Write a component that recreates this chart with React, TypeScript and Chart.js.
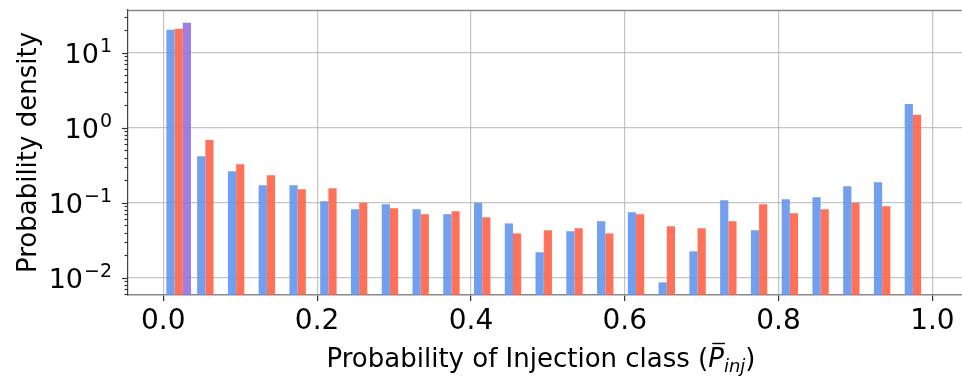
import React, { useEffect, useRef } from 'react';
import { Chart, registerables } from 'chart.js';

Chart.register(...registerables);

// Histogram bins: 25 bins of width 0.04 on [0, 1], plotted at their centres
const binCenters = [
  0.02, 0.06, 0.10, 0.14, 0.18, 0.22, 0.26, 0.30, 0.34, 0.38,
  0.42, 0.46, 0.50, 0.54, 0.58, 0.62, 0.66, 0.70, 0.74, 0.78,
  0.82, 0.86, 0.90, 0.94, 0.98,
];

const blueDensity = [
  20.1, 0.417, 0.263, 0.171, 0.171, 0.105, 0.082, 0.0955, 0.082, 0.0703,
  0.1, 0.053, 0.0219, 0.0417, 0.0567, 0.0747, 0.0087, 0.0225, 0.108, 0.043,
  0.111, 0.118, 0.166, 0.188, 2.07,
];

const redDensity = [
  20.7, 0.686, 0.326, 0.233, 0.151, 0.156, 0.1, 0.0845, 0.0703, 0.077,
  0.064, 0.039, 0.043, 0.0457, 0.039, 0.0703, 0.0486, 0.0457, 0.0567, 0.0955,
  0.0724, 0.082, 0.1, 0.09, 1.48,
];

const purpleDensity: (number | null)[] = [
  24.9, null, null, null, null, null, null, null, null, null,
  null, null, null, null, null, null, null, null, null, null,
  null, null, null, null, null,
];

const xTickValues = [0, 0.2, 0.4, 0.6, 0.8, 1.0];
const xTickLabels = ['0.0', '0.2', '0.4', '0.6', '0.8', '1.0'];

const yMajorTicks = [0.01, 0.1, 1, 10];
const yMajorExponents = ['\u22122', '\u22121', '0', '1'];

const X_MIN = -0.0459;
const X_MAX = 1.0385;
const Y_MIN = 0.0059;
const Y_MAX = 36.9;

const FONT = '"DejaVu Sans", sans-serif';
const GRID = 'rgba(176,176,176,0.75)';

function minorLogTicks(min: number, max: number): number[] {
  const out: number[] = [];
  for (let e = Math.floor(Math.log10(min)); e <= Math.ceil(Math.log10(max)); e++) {
    for (let k = 1; k <= 9; k++) {
      const v = Number((k * Math.pow(10, e)).toPrecision(3));
      if (v >= min && v <= max) out.push(v);
    }
  }
  return out;
}

function isMajor(v: number): boolean {
  return yMajorTicks.some((m) => Math.abs(v - m) / m < 1e-6);
}

const toPoints = (vals: (number | null)[]) => vals.map((y, i) => ({ x: binCenters[i], y }));

// Left-axis tick marks and power-of-ten labels, plus the top spine and x title
const axisDecor = {
  id: 'axisDecor',
  afterDraw(chart: any) {
    const { ctx, chartArea } = chart;
    const y = chart.scales.y;
    ctx.save();
    ctx.strokeStyle = '#333';
    ctx.lineWidth = 1.2;
    y.ticks.forEach((t: any) => {
      const py = Math.round(y.getPixelForValue(t.value)) + 0.5;
      const len = isMajor(t.value) ? 6 : 3.5;
      ctx.beginPath();
      ctx.moveTo(chartArea.left - len, py);
      ctx.lineTo(chartArea.left, py);
      ctx.stroke();
    });

    ctx.fillStyle = '#000';
    ctx.textBaseline = 'alphabetic';
    yMajorTicks.forEach((v, i) => {
      const py = y.getPixelForValue(v);
      const right = chartArea.left - 16;
      ctx.font = `19px ${FONT}`;
      const expW = ctx.measureText(yMajorExponents[i]).width;
      ctx.textAlign = 'right';
      ctx.fillText(yMajorExponents[i], right, py - 1);
      ctx.font = `27px ${FONT}`;
      ctx.fillText('10', right - expW - 1, py + 10);
    });

    // top spine
    ctx.strokeStyle = '#888';
    ctx.lineWidth = 1.5;
    ctx.beginPath();
    ctx.moveTo(chartArea.left, chartArea.top + 0.5);
    ctx.lineTo(chartArea.right, chartArea.top + 0.5);
    ctx.stroke();

    // x-axis title with mathematical subscript
    const cx = 541;
    const base = 367;
    const parts = [
      { t: 'Probability of Injection class (', f: `26px ${FONT}`, dy: 0 },
      { t: 'P', f: `italic 26px ${FONT}`, dy: 0, bar: true },
      { t: 'inj', f: `italic 18px ${FONT}`, dy: 5 },
      { t: ')', f: `26px ${FONT}`, dy: 0 },
    ];
    let total = 0;
    const widths = parts.map((p) => {
      ctx.font = p.f;
      const w = ctx.measureText(p.t).width;
      total += w;
      return w;
    });
    let px = cx - total / 2;
    ctx.textAlign = 'left';
    parts.forEach((p, i) => {
      ctx.font = p.f;
      ctx.fillText(p.t, px, base + p.dy);
      if ((p as any).bar) {
        ctx.strokeStyle = '#000';
        ctx.lineWidth = 1.4;
        ctx.beginPath();
        ctx.moveTo(px + 4, base - 23.5);
        ctx.lineTo(px + widths[i] + 1, base - 23.5);
        ctx.stroke();
      }
      px += widths[i];
    });
    ctx.restore();
  },
};

export default function App() {
  const canvasRef = useRef<HTMLCanvasElement | null>(null);

  useEffect(() => {
    document.body.style.margin = '0';
    const canvas = canvasRef.current;
    if (!canvas) return;
    const chart = new Chart(canvas, {
      type: 'bar',
      data: {
        datasets: [
          { data: toPoints(blueDensity), backgroundColor: 'rgba(100,149,237,0.9)' },
          { data: toPoints(redDensity), backgroundColor: 'rgba(255,99,71,0.9)' },
          { data: toPoints(purpleDensity), backgroundColor: 'rgba(147,112,219,0.9)' },
        ] as any,
      },
      options: {
        animation: false,
        responsive: false,
        devicePixelRatio: 1,
        layout: { padding: { top: 10, right: 0, left: 0, bottom: 0 } },
        plugins: { legend: { display: false }, tooltip: { enabled: false } },
        datasets: { bar: { categoryPercentage: 0.8, barPercentage: 1.0 } },
        scales: {
          x: {
            type: 'linear',
            min: X_MIN,
            max: X_MAX,
            offset: false,
            z: 1,
            afterBuildTicks: (scale: any) => {
              scale.ticks = xTickValues.map((v) => ({ value: v }));
            },
            afterFit: (scale: any) => {
              scale.height = 81;
            },
            ticks: {
              autoSkip: false,
              maxRotation: 0,
              padding: 4,
              color: '#000',
              font: { family: FONT, size: 28 },
              callback: (_v: any, i: number) => xTickLabels[i],
            },
            grid: {
              offset: false,
              color: GRID,
              lineWidth: 1.2,
              tickLength: 6,
              tickColor: '#333',
              tickWidth: 1.2,
            },
            border: { display: true, color: '#888', width: 1.5 },
          },
          y: {
            type: 'logarithmic',
            min: Y_MIN,
            max: Y_MAX,
            z: 1,
            afterBuildTicks: (scale: any) => {
              scale.ticks = minorLogTicks(Y_MIN, Y_MAX).map((v) => ({ value: v }));
            },
            afterFit: (scale: any) => {
              scale.width = 128;
            },
            ticks: { display: false, autoSkip: false },
            grid: {
              drawTicks: false,
              lineWidth: 1.2,
              color: (c: any) => (c.tick && isMajor(c.tick.value) ? GRID : 'rgba(0,0,0,0)'),
            },
            border: { display: true, color: '#444', width: 1.2 },
            title: {
              display: true,
              text: 'Probability density',
              color: '#000',
              font: { family: FONT, size: 26 },
              padding: { top: 14, bottom: 0 },
            },
          },
        },
      } as any,
      plugins: [axisDecor],
    });
    return () => chart.destroy();
  }, []);

  return (
    <div style={{ width: 962, height: 376 }}>
      <canvas ref={canvasRef} width={962} height={376} />
    </div>
  );
}
